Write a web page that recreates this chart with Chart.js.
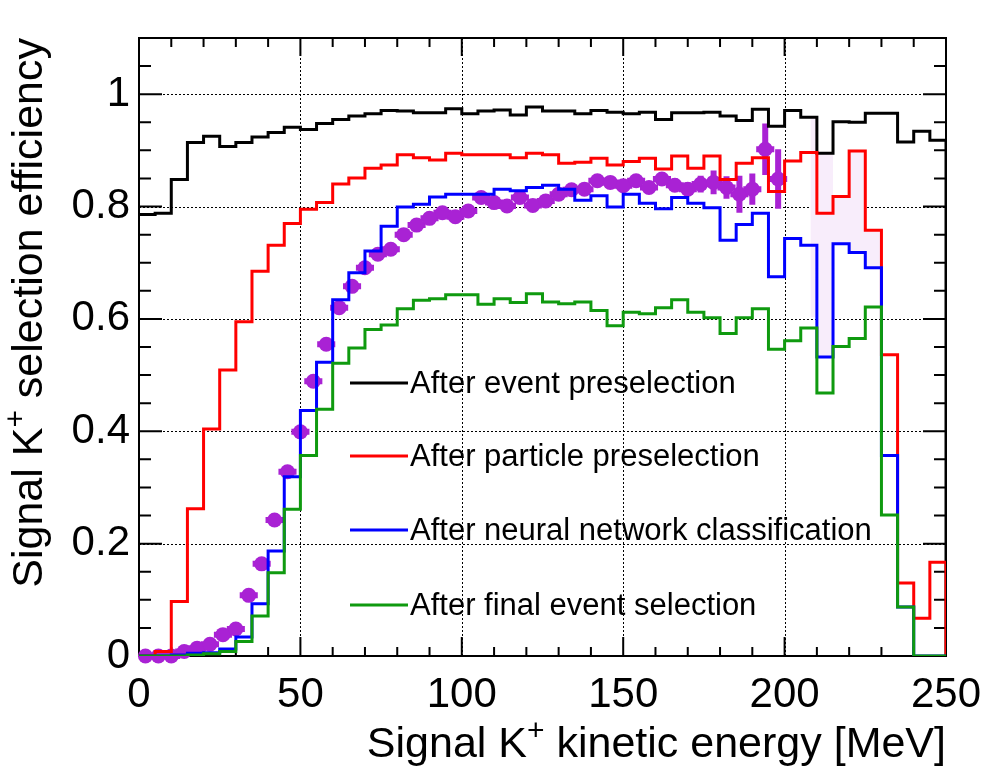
<!DOCTYPE html>
<html>
<head>
<meta charset="utf-8">
<script src="https://cdn.jsdelivr.net/npm/chart.js@4.4.1/dist/chart.umd.min.js"></script>
<style>
  html, body { margin: 0; padding: 0; background: #fff; }
</style>
</head>
<body>
<canvas id="effChart" width="996" height="772"></canvas>
<script>
// bin edges of the 5 MeV histograms
const binEdges = [0, 5, 10, 15, 20, 25, 30, 35, 40, 45, 50, 55, 60, 65, 70, 75, 80, 85, 90, 95,
  100, 105, 110, 115, 120, 125, 130, 135, 140, 145, 150, 155, 160, 165, 170, 175, 180, 185, 190, 195,
  200, 205, 210, 215, 220, 225, 230, 235, 240, 245, 250];

const evtPresel = [0.786, 0.788, 0.848, 0.914, 0.925, 0.907, 0.914, 0.924, 0.932, 0.941,
  0.937, 0.948, 0.955, 0.961, 0.965, 0.971, 0.970, 0.967, 0.967, 0.974,
  0.965, 0.970, 0.972, 0.963, 0.977, 0.970, 0.970, 0.965, 0.971, 0.968,
  0.965, 0.968, 0.955, 0.967, 0.967, 0.968, 0.961, 0.953, 0.973, 0.943,
  0.971, 0.959, 0.895, 0.951, 0.950, 0.966, 0.966, 0.915, 0.934, 0.918];

const partPresel = [0.0, 0.008, 0.097, 0.262, 0.404, 0.509, 0.595, 0.685, 0.731, 0.770,
  0.795, 0.807, 0.840, 0.851, 0.868, 0.874, 0.892, 0.887, 0.883, 0.895,
  0.892, 0.892, 0.892, 0.887, 0.895, 0.892, 0.877, 0.879, 0.886, 0.874,
  0.880, 0.886, 0.867, 0.890, 0.868, 0.890, 0.848, 0.877, 0.887, 0.827,
  0.881, 0.896, 0.788, 0.818, 0.899, 0.758, 0.536, 0.130, 0.067, 0.167];

const nnClass = [0.0, 0.0, 0.002, 0.005, 0.006, 0.0125, 0.034, 0.093, 0.187, 0.319,
  0.437, 0.523, 0.634, 0.682, 0.721, 0.765, 0.799, 0.804, 0.817, 0.822,
  0.822, 0.822, 0.831, 0.828, 0.834, 0.838, 0.831, 0.811, 0.819, 0.799,
  0.822, 0.806, 0.796, 0.816, 0.806, 0.798, 0.740, 0.768, 0.788, 0.675,
  0.743, 0.731, 0.532, 0.734, 0.718, 0.691, 0.357, 0.087, 0.0, 0.0];

const finalSel = [0.0, 0.0, 0.0, 0.002, 0.004, 0.008, 0.026, 0.071, 0.148, 0.261,
  0.357, 0.439, 0.521, 0.548, 0.581, 0.589, 0.618, 0.633, 0.636, 0.643,
  0.643, 0.626, 0.636, 0.629, 0.645, 0.630, 0.627, 0.630, 0.615, 0.588,
  0.612, 0.609, 0.620, 0.634, 0.612, 0.602, 0.574, 0.602, 0.618, 0.546,
  0.561, 0.584, 0.468, 0.551, 0.565, 0.621, 0.251, 0.087, 0.0, 0.0];

// purple points (4 MeV bins)
const pointEnergy = [2, 6, 10, 14, 18, 22, 26, 30, 34, 38, 42, 46, 50, 54, 58, 62, 66, 70, 74, 78,
  82, 86, 90, 94, 98, 102, 106, 110, 114, 118, 122, 126, 130, 134, 138, 142, 146, 150, 154, 158,
  162, 166, 170, 174, 178, 182, 186, 190, 194, 198];
const pointEff = [0.0, 0.0, 0.0, 0.008, 0.014, 0.021, 0.038, 0.048, 0.108, 0.164,
  0.242, 0.328, 0.399, 0.489, 0.555, 0.620, 0.658, 0.691, 0.715, 0.724,
  0.750, 0.767, 0.779, 0.789, 0.782, 0.792, 0.816, 0.807, 0.801, 0.816,
  0.802, 0.810, 0.822, 0.830, 0.831, 0.846, 0.843, 0.837, 0.846, 0.834,
  0.849, 0.838, 0.831, 0.840, 0.843, 0.834, 0.822, 0.831, 0.902, 0.849];
const pointErr = [0.004, 0.004, 0.004, 0.004, 0.004, 0.004, 0.005, 0.005, 0.006, 0.006,
  0.006, 0.006, 0.006, 0.006, 0.006, 0.006, 0.006, 0.006, 0.006, 0.006,
  0.006, 0.006, 0.006, 0.006, 0.006, 0.006, 0.006, 0.006, 0.006, 0.006,
  0.006, 0.006, 0.006, 0.006, 0.006, 0.008, 0.008, 0.008, 0.009, 0.010,
  0.010, 0.012, 0.012, 0.015, 0.021, 0.020, 0.033, 0.028, 0.046, 0.053];
const pointHalfWidth = 2.8;

// light band behind the lines at high energy
const bandEdges = [208, 210, 215, 220, 225, 230.3];
const bandHigh = [0.959, 0.895, 0.818, 0.899, 0.758, 0.758];
const bandLow = [0.603, 0.533, 0.734, 0.718, 0.691, 0.691];

const xTicks = [0, 50, 100, 150, 200, 250];
const yTicks = [0, 0.2, 0.4, 0.6, 0.8, 1];

const legendLabels = ['After event preselection', 'After particle preselection',
  'After neural network classification', 'After final event selection'];
const lineColors = ['#000000', '#ff0000', '#0000ff', '#0f9a0f'];
const purple = '#a922d4';
const FONT = "'Liberation Sans', Arial, Helvetica, sans-serif";

function toSteps(values) {
  const pts = binEdges.map((x, i) => ({ x: x, y: values[Math.min(i, values.length - 1)] }));
  pts.push({ x: binEdges[binEdges.length - 1], y: 0 });
  return pts;
}
function bandSteps(vals) {
  return bandEdges.map((x, i) => ({ x: x, y: vals[i] }));
}

function histDataset(label, values, color, order) {
  return {
    label: label,
    data: toSteps(values),
    showLine: true,
    stepped: true,
    borderColor: color,
    borderWidth: 3,
    pointRadius: 0,
    fill: false,
    order: order
  };
}

// ROOT-like frame, dotted grid and inner ticks
const rootFrame = {
  id: 'rootFrame',
  beforeDatasetsDraw(chart) {
    const { ctx, chartArea: a, scales: { x, y } } = chart;
    ctx.save();
    ctx.strokeStyle = '#000';
    ctx.lineWidth = 1;
    ctx.setLineDash([2, 2]);
    ctx.beginPath();
    xTicks.forEach(v => {
      if (v > x.min && v < x.max) {
        const px = Math.round(x.getPixelForValue(v)) + 0.5;
        ctx.moveTo(px, a.top); ctx.lineTo(px, a.bottom);
      }
    });
    yTicks.forEach(v => {
      if (v > y.min && v < y.max) {
        const py = Math.round(y.getPixelForValue(v)) + 0.5;
        ctx.moveTo(a.left, py); ctx.lineTo(a.right, py);
      }
    });
    ctx.stroke();
    ctx.setLineDash([]);
    ctx.lineWidth = 2;
    ctx.beginPath();
    for (let v = 0; v <= 250; v += 10) {
      const px = x.getPixelForValue(v);
      const major = v % 50 === 0;
      ctx.moveTo(px, a.bottom); ctx.lineTo(px, a.bottom - (major ? 19 : 9));
      ctx.moveTo(px, a.top); ctx.lineTo(px, a.top + (major ? 18 : 9));
    }
    for (let i = 0; i <= 22; i++) {
      const py = y.getPixelForValue(i * 0.05);
      const major = i % 4 === 0;
      ctx.moveTo(a.left, py); ctx.lineTo(a.left + (major ? 23 : 12), py);
      ctx.moveTo(a.right, py); ctx.lineTo(a.right - (major ? 23 : 12), py);
    }
    ctx.stroke();
    ctx.strokeRect(a.left, a.top, a.right - a.left, a.bottom - a.top);
    ctx.restore();
  },
  beforeDatasetDraw(chart, args) {
    if (args.index !== 6) return;
    const { ctx, scales: { x, y } } = chart;
    ctx.save();
    ctx.strokeStyle = purple;
    ctx.lineWidth = 6;
    ctx.beginPath();
    pointEnergy.forEach((e, i) => {
      const px = x.getPixelForValue(e);
      const py = y.getPixelForValue(pointEff[i]);
      ctx.moveTo(x.getPixelForValue(Math.max(0, e - pointHalfWidth)), py);
      ctx.lineTo(x.getPixelForValue(e + pointHalfWidth), py);
      ctx.moveTo(px, y.getPixelForValue(pointEff[i] - pointErr[i]));
      ctx.lineTo(px, y.getPixelForValue(pointEff[i] + pointErr[i]));
    });
    ctx.stroke();
    ctx.restore();
  },
  afterDraw(chart) {
    const { ctx, chartArea: a } = chart;
    ctx.save();
    ctx.fillStyle = '#000';
    ctx.textBaseline = 'alphabetic';
    // axis titles with superscript +
    const parts = (rest) => [['Signal K', false], ['+', true], [rest, false]];
    const drawParts = (segs, xEnd, yBase) => {
      const big = '43px ' + FONT, small = '30px ' + FONT;
      let total = 0;
      segs.forEach(s => { ctx.font = s[1] ? small : big; total += ctx.measureText(s[0]).width; });
      let cx = xEnd - total;
      segs.forEach(s => {
        ctx.font = s[1] ? small : big;
        ctx.fillText(s[0], cx, s[1] ? yBase - 17 : yBase);
        cx += ctx.measureText(s[0]).width;
      });
    };
    drawParts(parts(' kinetic energy [MeV]'), a.right, 757);
    ctx.save();
    ctx.translate(42, a.top);
    ctx.rotate(-Math.PI / 2);
    drawParts(parts(' selection efficiency'), 0, 0);
    ctx.restore();

    // legend
    const legendY = [383, 456, 530, 605];
    ctx.font = '31px ' + FONT;
    ctx.textBaseline = 'middle';
    legendLabels.forEach((t, i) => {
      ctx.strokeStyle = lineColors[i];
      ctx.lineWidth = 3;
      ctx.beginPath();
      ctx.moveTo(350, legendY[i]); ctx.lineTo(408, legendY[i]);
      ctx.stroke();
      ctx.fillText(t, 410, legendY[i] + 1);
    });
    ctx.restore();
  }
};

new Chart(document.getElementById('effChart'), {
  type: 'scatter',
  data: {
    datasets: [
      histDataset(legendLabels[0], evtPresel, lineColors[0], 4),
      histDataset(legendLabels[1], partPresel, lineColors[1], 3),
      histDataset(legendLabels[2], nnClass, lineColors[2], 2),
      histDataset(legendLabels[3], finalSel, lineColors[3], 1),
      {
        label: 'bandHigh',
        data: bandSteps(bandHigh),
        showLine: true, stepped: true, borderWidth: 0, pointRadius: 0,
        backgroundColor: '#f8edfb', fill: '+1', order: 20
      },
      {
        label: 'bandLow',
        data: bandSteps(bandLow),
        showLine: true, stepped: true, borderWidth: 0, pointRadius: 0,
        fill: false, order: 21
      },
      {
        label: 'points',
        data: pointEnergy.map((e, i) => ({ x: e, y: pointEff[i] })),
        showLine: false,
        pointRadius: 7.5,
        pointBorderWidth: 0,
        pointBackgroundColor: purple,
        clip: false,
        order: 10
      }
    ]
  },
  options: {
    responsive: false,
    devicePixelRatio: 1,
    animation: false,
    layout: { padding: { top: 38, right: 50, left: 0, bottom: 0 } },
    plugins: { legend: { display: false }, tooltip: { enabled: false } },
    scales: {
      x: {
        type: 'linear', min: 0, max: 250,
        grid: { display: false }, border: { display: false },
        afterBuildTicks: s => { s.ticks = xTicks.map(v => ({ value: v })); },
        afterFit: s => { s.height = 116; },
        ticks: { color: '#000', padding: 6, maxRotation: 0, font: { family: FONT, size: 42 }, callback: v => String(v) }
      },
      y: {
        type: 'linear', min: 0, max: 1.1,
        grid: { display: false }, border: { display: false },
        afterBuildTicks: s => { s.ticks = yTicks.map(v => ({ value: v })); },
        afterFit: s => { s.width = 139; },
        ticks: { color: '#000', padding: 1, font: { family: FONT, size: 42 }, callback: v => String(+v.toFixed(2)) }
      }
    }
  },
  plugins: [rootFrame]
});
</script>
</body>
</html>
